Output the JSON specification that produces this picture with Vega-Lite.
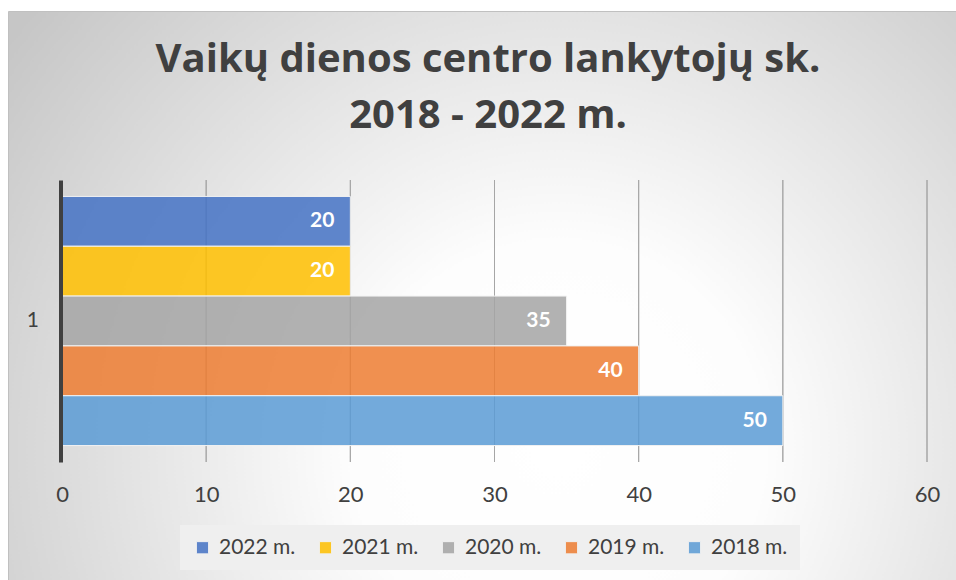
{
  "$schema": "https://vega.github.io/schema/vega-lite/v6.json",
  "width": 948,
  "height": 569,
  "autosize": {"type": "none"},
  "padding": {"left": 8, "top": 11, "right": 0, "bottom": 0},
  "background": "white",
  "view": {
    "fill": {
      "gradient": "radial",
      "x1": 0.58, "y1": 0.66, "r1": 0,
      "x2": 0.58, "y2": 0.66, "r2": 0.72,
      "stops": [
        {"offset": 0, "color": "#ffffff"},
        {"offset": 0.3, "color": "#fdfdfd"},
        {"offset": 1, "color": "#c6c6c6"}
      ]
    },
    "stroke": "#c0c0c0",
    "strokeWidth": 1
  },
  "title": {
    "text": ["Vaikų dienos centro lankytojų sk.", "2018 - 2022 m."],
    "font": "Open Sans",
    "fontSize": 40,
    "fontWeight": "bold",
    "color": "#404040",
    "anchor": "middle",
    "baseline": "top",
    "offset": -125,
    "lineHeight": 56,
    "dx": 6
  },
  "encoding": {
    "y": {
      "field": "category",
      "type": "nominal",
      "scale": {"range": [169, 451], "paddingInner": 0, "paddingOuter": 0},
      "axis": {
        "title": null,
        "orient": "left",
        "offset": -52.5,
        "ticks": false,
        "grid": false,
        "zindex": 1,
        "domainColor": "#404040",
        "domainWidth": 4,
        "labelFont": "Lato",
        "labelFontSize": 21,
        "labelColor": "#404040",
        "labelPadding": 22,
        "labelAngle": 0
      }
    },
    "x": {
      "field": "value",
      "type": "quantitative",
      "scale": {"domain": [0, 60], "range": [54, 919], "nice": false},
      "axis": {
        "title": null,
        "orient": "bottom",
        "offset": -118,
        "values": [0, 10, 20, 30, 40, 50, 60],
        "domain": false,
        "ticks": false,
        "grid": false,
        "labelFlush": false,
        "labelFont": "Lato",
        "labelFontSize": 22,
        "labelColor": "#404040",
        "labelPadding": 22
      }
    }
  },
  "layer": [
    {
      "data": {
        "values": [
          {"category": "1", "value": 10},
          {"category": "1", "value": 20},
          {"category": "1", "value": 30},
          {"category": "1", "value": 40},
          {"category": "1", "value": 50},
          {"category": "1", "value": 60}
        ]
      },
      "mark": {"type": "bar", "fillOpacity": 0, "stroke": "#a6a6a6", "strokeWidth": 1},
      "encoding": {
        "x2": {"field": "value"}
      }
    },
    {
      "data": {
        "values": [
          {"category": "1", "series": "2022 m.", "value": 20},
          {"category": "1", "series": "2021 m.", "value": 20},
          {"category": "1", "series": "2020 m.", "value": 35},
          {"category": "1", "series": "2019 m.", "value": 40},
          {"category": "1", "series": "2018 m.", "value": 50}
        ]
      },
      "encoding": {
        "yOffset": {
          "field": "series",
          "type": "nominal",
          "sort": ["2022 m.", "2021 m.", "2020 m.", "2019 m.", "2018 m."],
          "scale": {"paddingInner": 0, "paddingOuter": 0.33}
        }
      },
      "layer": [
        {
          "mark": {"type": "bar", "fillOpacity": 0.85, "stroke": "#f2f2f2", "strokeWidth": 1},
          "encoding": {
            "color": {
              "field": "series",
              "type": "nominal",
              "scale": {
                "domain": ["2022 m.", "2021 m.", "2020 m.", "2019 m.", "2018 m."],
                "range": ["#4472C4", "#FFC000", "#A5A5A5", "#ED7D31", "#5B9BD5"]
              },
              "legend": {
                "orient": "none",
                "legendX": 172,
                "legendY": 514,
                "direction": "horizontal",
                "title": null,
                "fillColor": "#efefef",
                "padding": 12,
                "labelFont": "Lato",
                "labelFontSize": 21,
                "labelColor": "#404040",
                "symbolType": "square",
                "symbolSize": 150,
                "symbolOpacity": 0.85,
                "symbolStrokeColor": "#f2f2f2",
                "symbolStrokeWidth": 1,
                "columnPadding": 19,
                "labelOffset": 6
              }
            }
          }
        },
        {
          "mark": {
            "type": "text",
            "align": "right",
            "baseline": "middle",
            "dx": -16,
            "color": "white",
            "font": "Lato",
            "fontWeight": "bold",
            "fontSize": 21
          },
          "encoding": {"text": {"field": "value", "type": "quantitative"}}
        }
      ]
    }
  ]
}
